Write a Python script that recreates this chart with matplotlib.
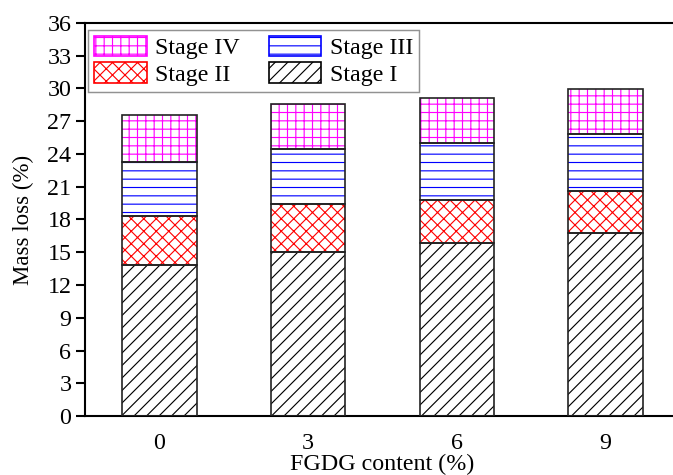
import numpy as np
import matplotlib
matplotlib.use("Agg")
import matplotlib.pyplot as plt

# FGDG content (%) and mass loss of each stage (%)
fgdg = [0, 3, 6, 9]
stage1 = [13.80, 15.00, 15.84, 16.76]
stage2 = [4.52, 4.42, 3.94, 3.82]
stage3 = [4.97, 5.01, 5.19, 5.22]
stage4 = [4.25, 4.15, 4.12, 4.12]

plt.rcParams['font.family'] = ['Liberation Serif', 'DejaVu Serif']
plt.rcParams['hatch.linewidth'] = 0.55

fig = plt.figure(figsize=(673 / 150, 475 / 150), dpi=150)
ax = fig.add_axes([0.1263, 0.1242, 0.884, 0.8274])

x = np.array(fgdg)
w = 1.5
stages = [
    ('Stage I', stage1, '////', 'black'),
    ('Stage II', stage2, 'xxxx', 'red'),
    ('Stage III', stage3, '---', 'blue'),
    ('Stage IV', stage4, '+++', 'magenta'),
]

handles = {}
bottom = np.zeros(len(x))
for name, vals, hatch, col in stages:
    vals = np.array(vals)
    # hatched fill (edgecolor drives hatch colour), then black outline on top
    b = ax.bar(x, vals, w, bottom=bottom, color='white', edgecolor=col,
               hatch=hatch, linewidth=0, zorder=2)
    ax.bar(x, vals, w, bottom=bottom, color='none', edgecolor='#222222',
           linewidth=0.8, zorder=3)
    handles[name] = b
    bottom += vals

ax.set_xlim(-1.5, 10.5)
ax.set_ylim(0, 36)
ax.set_yticks(np.arange(0, 37, 3))
ax.set_xticks(fgdg)
ax.tick_params(axis='y', direction='out', length=4.5, width=1, labelsize=11.5, pad=2)
ax.tick_params(axis='x', length=0, labelsize=11.5, pad=8)
for s in ['left', 'bottom', 'top']:
    ax.spines[s].set_linewidth(1.0)
ax.spines['right'].set_visible(False)

ax.set_ylabel('Mass loss (%)', fontsize=11, labelpad=4)
ax.set_xlabel('FGDG content (%)', fontsize=11.5, labelpad=0)
ax.yaxis.set_label_coords(-0.085, 0.5)

# legend: two columns, IV / II on the left, III / I on the right
order = ['Stage IV', 'Stage II', 'Stage III', 'Stage I']
leg = ax.legend([handles[k] for k in order], order, ncol=2, loc='upper left',
                bbox_to_anchor=(88 / 673, 1 - 29.7 / 475),
                bbox_transform=fig.transFigure, borderaxespad=0,
                fontsize=11.5, fancybox=False, edgecolor='#777777',
                handlelength=2.2, handleheight=0.95, handletextpad=0.35,
                labelspacing=0.12, columnspacing=1.2, borderpad=0.25)
leg.get_frame().set_linewidth(0.7)
for p in leg.get_patches():
    p.set_linewidth(0.8)

fig.savefig('out.png', dpi=150)
